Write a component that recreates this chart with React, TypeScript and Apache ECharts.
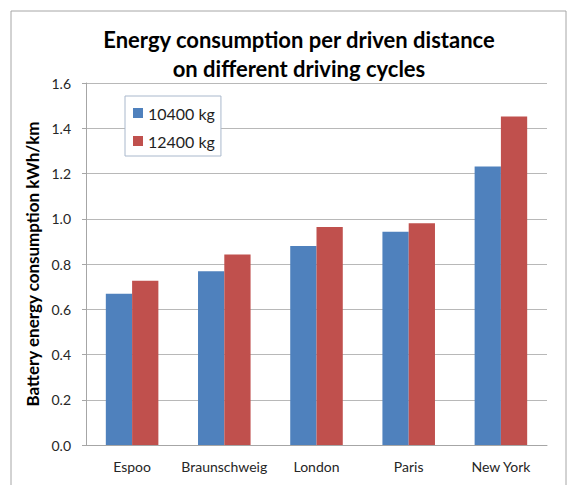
import React, { useEffect, useRef } from "react";
import * as echarts from "echarts";

const categories = ["Espoo", "Braunschweig", "London", "Paris", "New York"];
const series10400 = [0.668, 0.768, 0.88, 0.942, 1.231];
const series12400 = [0.726, 0.842, 0.964, 0.98, 1.452];
const seriesNames = ["10400 kg", "12400 kg"];
const titleLines = ["Energy consumption per driven distance", "on different driving cycles"];
const yAxisName = "Battery energy consumption kWh/km";

export default function App() {
  const ref = useRef<HTMLDivElement>(null);
  useEffect(() => {
    if (!ref.current) return;
    const chart = echarts.init(ref.current, undefined, { renderer: "svg" });
    const font = "Lato, 'Open Sans', sans-serif";
    chart.setOption({
      animation: false,
      backgroundColor: "#ffffff",
      graphic: [
        {
          type: "rect",
          shape: { x: 11, y: 11, width: 555, height: 500 },
          style: { fill: "none", stroke: "#a6a6a6", lineWidth: 1 },
          silent: true,
          z: -1,
        },
      ],
      title: {
        text: titleLines.join("\n"),
        left: 294,
        textAlign: "center",
        top: 20,
        textStyle: {
          fontFamily: font,
          fontWeight: "bold",
          fontSize: 22,
          lineHeight: 29,
          color: "#000000",
        },
      },
      legend: {
        orient: "vertical",
        left: 125,
        top: 96,
        padding: [8, 6, 6, 8],
        itemWidth: 10,
        itemHeight: 10,
        itemGap: 10,
        icon: "rect",
        backgroundColor: "#ffffff",
        borderColor: "#a9b8cc",
        borderWidth: 1,
        borderRadius: 0,
        textStyle: { fontFamily: font, fontSize: 16, lineHeight: 18, color: "#1f1f1f" },
        data: seriesNames,
        z: 10,
      },
      grid: { left: 86, right: 25, top: 83, bottom: 40, containLabel: false },
      xAxis: {
        type: "category",
        data: categories,
        axisLine: { lineStyle: { color: "#a6a6a6" } },
        axisTick: { show: false },
        axisLabel: { interval: 0, fontFamily: font, fontSize: 14, color: "#262626", margin: 14 },
      },
      yAxis: {
        type: "value",
        min: 0,
        max: 1.6,
        interval: 0.2,
        name: yAxisName,
        nameLocation: "middle",
        nameGap: 45,
        nameTextStyle: { fontFamily: font, fontWeight: "bold", fontSize: 17, color: "#000000" },
        axisLine: { show: true, lineStyle: { color: "#a6a6a6" } },
        axisTick: { show: true, length: 4, lineStyle: { color: "#a6a6a6" } },
        axisLabel: {
          fontFamily: font,
          fontSize: 14,
          color: "#262626",
          margin: 15,
          formatter: (v: number) => v.toFixed(1),
        },
        splitLine: { lineStyle: { color: "#b8b8b8" } },
      },
      series: [
        {
          name: seriesNames[0],
          type: "bar",
          data: series10400,
          barGap: "0%",
          barCategoryGap: "43%",
          itemStyle: { color: "#4f81bd" },
        },
        {
          name: seriesNames[1],
          type: "bar",
          data: series12400,
          barGap: "0%",
          barCategoryGap: "43%",
          itemStyle: { color: "#c0504d" },
        },
      ],
    });
    return () => chart.dispose();
  }, []);
  return (
    <div
      ref={ref}
      style={{ position: "fixed", left: 0, top: 0, width: 572, height: 485 }}
    />
  );
}
